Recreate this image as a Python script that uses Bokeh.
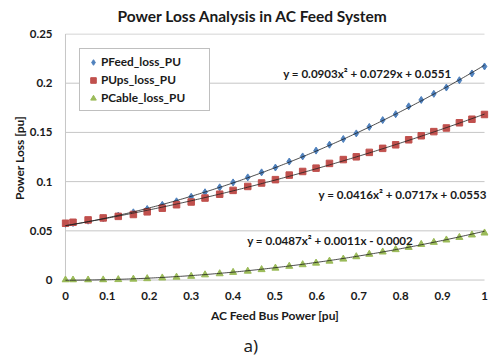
import numpy as np
from bokeh.plotting import figure
from bokeh.models import Range1d, FixedTicker, Label, Legend, LegendItem, Title
from bokeh.embed import file_html
from bokeh.resources import INLINE

# ---------------- data ----------------
bus_power = [0.000, 0.018, 0.054, 0.090, 0.126, 0.162, 0.195, 0.231, 0.265, 0.300,
             0.333, 0.368, 0.400, 0.435, 0.468, 0.501, 0.534, 0.566, 0.598, 0.630,
             0.663, 0.694, 0.725, 0.757, 0.788, 0.819, 0.849, 0.879, 0.909, 0.940,
             0.970, 1.000]
pfeed_loss = [0.0571, 0.0579, 0.0603, 0.0628, 0.0655, 0.0688, 0.0722, 0.0764, 0.0800, 0.0846,
              0.0892, 0.0942, 0.0992, 0.1043, 0.1094, 0.1143, 0.1204, 0.1256, 0.1315, 0.1375,
              0.1433, 0.1490, 0.1556, 0.1625, 0.1685, 0.1765, 0.1830, 0.1892, 0.1956, 0.2030,
              0.2099, 0.2170]
pups_loss = [0.0577, 0.0587, 0.0611, 0.0631, 0.0647, 0.0666, 0.0693, 0.0730, 0.0765, 0.0793,
             0.0833, 0.0872, 0.0911, 0.0951, 0.0986, 0.1020, 0.1066, 0.1103, 0.1137, 0.1185,
             0.1224, 0.1252, 0.1297, 0.1338, 0.1374, 0.1425, 0.1466, 0.1508, 0.1545, 0.1598,
             0.1634, 0.1682]
pcable_loss = [0.0, 0.0, 0.0, 0.0001, 0.0004, 0.0009, 0.0014, 0.0021, 0.0029, 0.0038,
               0.0053, 0.0064, 0.0078, 0.0090, 0.0106, 0.0121, 0.0140, 0.0156, 0.0172, 0.0192,
               0.0213, 0.0237, 0.0262, 0.0285, 0.0309, 0.0332, 0.0362, 0.0383, 0.0407, 0.0433,
               0.0458, 0.0478]

# polynomial trendline coefficients shown on the chart (x^2, x, 1)
feed_fit = [0.0903, 0.0729, 0.0551]
ups_fit = [0.0416, 0.0717, 0.0553]
cable_fit = [0.0487, 0.0011, -0.0002]

series_names = ["PFeed_loss_PU", "PUps_loss_PU", "PCable_loss_PU"]
fit_labels = ["y = 0.0903x\u00b2 + 0.0729x + 0.0551",
              "y = 0.0416x\u00b2 + 0.0717x + 0.0553",
              "y = 0.0487x\u00b2 + 0.0011x - 0.0002"]

x_ticks = [0, 0.1, 0.2, 0.3, 0.4, 0.5, 0.6, 0.7, 0.8, 0.9, 1]
x_tick_labels = ["0", "0.1", "0.2", "0.3", "0.4", "0.5", "0.6", "0.7", "0.8", "0.9", "1"]
y_ticks = [0, 0.05, 0.1, 0.15, 0.2, 0.25]
y_tick_labels = ["0", "0.05", "0.1", "0.15", "0.2", "0.25"]

title_text = "Power Loss Analysis in AC Feed System"
x_title = "AC Feed Bus Power [pu]"
y_title = "Power Loss [pu]"
panel_tag = "a)"

# ---------------- styling ----------------
FONT = "Lato"
TXT = "#1a1a1a"
GRID = "#c6c6c6"
BLUE, RED, GREEN = "#4F81BD", "#C0504D", "#9BBB59"

p = figure(frame_width=427, frame_height=249,
           min_border_left=61, min_border_right=1,
           min_border_top=32, min_border_bottom=80,
           x_range=Range1d(-0.0095, 1.0095), y_range=Range1d(-0.0025, 0.2505),
           output_backend="svg", toolbar_location=None)
p.background_fill_color = "white"
p.border_fill_color = "white"
p.outline_line_color = None
p.xgrid.visible = False
p.ygrid.visible = False

# title
p.title = Title(text=title_text, align="left", offset=56, standoff=13,
                vertical_align="top", text_font=FONT, text_font_style="bold",
                text_font_size="15.5px", text_color=TXT)

# horizontal gridlines at the y ticks and the value-axis line at x = 0
p.segment(x0=x_ticks[0], x1=x_ticks[-1], y0=y_ticks, y1=y_ticks,
          line_color=GRID, line_width=1, level="underlay")
p.segment(x0=x_ticks[0], x1=x_ticks[0], y0=y_ticks[0], y1=y_ticks[-1],
          line_color=GRID, line_width=1, level="underlay")

# axes (lines hidden; drawn above at the data origin)
for ax in (p.xaxis[0], p.yaxis[0]):
    ax.axis_line_color = None
    ax.major_tick_in = 0
    ax.major_tick_out = 0
    ax.minor_tick_in = 0
    ax.minor_tick_out = 0
    ax.major_label_text_font = FONT
    ax.major_label_text_font_style = "bold"
    ax.major_label_text_font_size = "11.5px"
    ax.major_label_text_color = TXT
    ax.axis_label_text_font = FONT
    ax.axis_label_text_font_style = "bold"
    ax.axis_label_text_font_size = "12px"
    ax.axis_label_text_color = TXT

p.xaxis.ticker = FixedTicker(ticks=x_ticks)
p.yaxis.ticker = FixedTicker(ticks=y_ticks)
p.xaxis.major_label_overrides = {t: s for t, s in zip(x_ticks, x_tick_labels)}
p.yaxis.major_label_overrides = {t: s for t, s in zip(y_ticks, y_tick_labels)}
p.yaxis.axis_label = y_title
p.xaxis.major_label_standoff = 9
p.yaxis.major_label_standoff = 9
p.yaxis.axis_label_standoff = 0

# x-axis title and panel tag under the chart
p.add_layout(Title(text=x_title, align="center", standoff=8,
                   vertical_align="middle", text_font=FONT, text_font_style="bold",
                   text_font_size="12px", text_color=TXT), "below")
p.add_layout(Title(text=panel_tag, align="left", offset=182, standoff=10,
                   vertical_align="middle", text_font="Noto Sans",
                   text_font_size="17px", text_font_style="normal",
                   text_color="#222222"), "below")

# data markers
r_feed = p.scatter(bus_power, pfeed_loss, marker="diamond", size=7,
                   fill_color=BLUE, line_color=BLUE)
r_ups = p.scatter(bus_power, pups_loss, marker="square", size=6.5,
                  fill_color=RED, line_color=RED)
r_cable = p.scatter(bus_power, pcable_loss, marker="triangle", size=7,
                    fill_color=GREEN, line_color=GREEN)

# trendlines from the displayed polynomial coefficients
xs = np.linspace(x_ticks[0], x_ticks[-1], 201)
for coeffs in (feed_fit, ups_fit, cable_fit):
    p.line(xs, np.polyval(coeffs, xs), line_color="#202020", line_width=0.8)

# trendline equations
for txt, (lx, ly) in zip(fit_labels, [(0.5196, 0.2102), (0.6038, 0.0872), (0.4337, 0.0398)]):
    p.add_layout(Label(x=lx, y=ly, text=txt, text_font=FONT, text_font_style="bold",
                       text_font_size="11.6px", text_color=TXT, text_baseline="middle",
                       text_align="left"))

# legend
legend = Legend(items=[LegendItem(label=series_names[0], renderers=[r_feed]),
                       LegendItem(label=series_names[1], renderers=[r_ups]),
                       LegendItem(label=series_names[2], renderers=[r_cable])],
                location=(18, 171), orientation="vertical")
legend.padding = 5
legend.spacing = 3
legend.margin = 0
legend.glyph_width = 16
legend.glyph_height = 14
legend.label_height = 14
legend.label_width = 103
legend.label_standoff = 0
legend.label_text_font = FONT
legend.label_text_font_style = "bold"
legend.label_text_font_size = "11.8px"
legend.label_text_color = TXT
legend.border_line_color = "#808080"
legend.border_line_width = 1
legend.background_fill_color = "white"
legend.background_fill_alpha = 1
p.add_layout(legend, "center")

open("out.html", "w").write(file_html(p, INLINE))
